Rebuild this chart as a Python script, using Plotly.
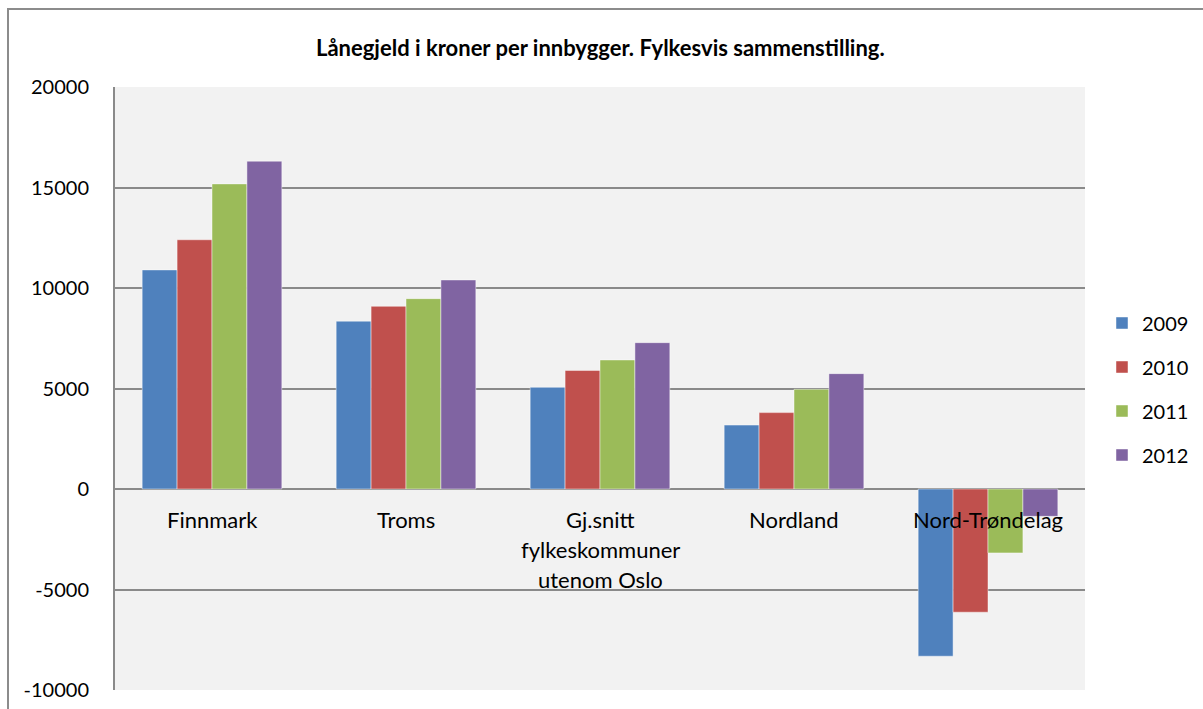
import plotly.graph_objects as go

categories = ["Finnmark", "Troms", "Gj.snitt\nfylkeskommuner\nutenom Oslo", "Nordland", "Nord-Trøndelag"]
years = ["2009", "2010", "2011", "2012"]
v2009 = [10900, 8350, 5060, 3180, -8320]
v2010 = [12400, 9090, 5900, 3800, -6130]
v2011 = [15180, 9470, 6420, 4960, -3180]
v2012 = [16310, 10400, 7280, 5740, -1360]
colors = ["#4F81BD", "#C0504D", "#9BBB59", "#8064A2"]
y_ticks = [-10000, -5000, 0, 5000, 10000, 15000, 20000]
title_text = "Lånegjeld i kroner per innbygger. Fylkesvis sammenstilling."

FONT = "Lato"
series = [v2009, v2010, v2011, v2012]

fig = go.Figure()
for i, (yr, vals) in enumerate(zip(years, series)):
    fig.add_trace(go.Bar(
        x=categories, y=vals, name=yr, legendgroup=yr,
        marker=dict(color=colors[i], line=dict(color="rgba(255,255,255,0.45)", width=1)),
    ))

annotations = []
for cat in categories:
    for j, line in enumerate(cat.split("\n")):
        annotations.append(dict(
            x=cat, y=0, xref="x", yref="y", text=line, showarrow=False,
            yanchor="middle", yshift=-30 - 30 * j,
            font=dict(family=FONT, size=22, color="black"),
        ))
annotations.append(dict(
    x=(600 - 115) / 970, y=(690 - 47) / 603, xref="paper", yref="paper",
    xanchor="center", yanchor="middle",
    text="<b>" + title_text + "</b>",
    showarrow=False, font=dict(family=FONT, size=22, color="black"),
))

fig.update_layout(
    width=1203, height=709,
    margin=dict(l=115, r=118, t=87, b=19, autoexpand=False),
    paper_bgcolor="white", plot_bgcolor="#F2F2F2",
    barmode="group", bargap=0.28, bargroupgap=0,
    font=dict(family=FONT, size=20, color="black"),
    showlegend=True,
    legend=dict(x=(1102 - 115) / 970, y=(690 - 389) / 603, xanchor="left", yanchor="middle",
                traceorder="grouped", tracegroupgap=15,
                font=dict(family=FONT, size=20, color="black"),
                bgcolor="rgba(0,0,0,0)", itemwidth=30),
    annotations=annotations,
    shapes=[dict(type="rect", xref="paper", yref="paper",
                 x0=(8 - 115) / 970, x1=(1215 - 115) / 970,
                 y0=(690 - 720) / 603, y1=(690 - 9) / 603,
                 line=dict(color="#8C8C8C", width=2), fillcolor="rgba(0,0,0,0)",
                 layer="below")],
)
fig.update_xaxes(showticklabels=False, showgrid=False, showline=False, zeroline=False,
                 automargin=False)
fig.update_yaxes(range=[-10000, 20000], tickvals=y_ticks, ticktext=[str(t) for t in y_ticks],
                 showgrid=True, gridcolor="#8A8A8A", gridwidth=1.5,
                 zeroline=True, zerolinecolor="#8A8A8A", zerolinewidth=1.5,
                 showline=True, linecolor="#8A8A8A", linewidth=2,
                 ticks="outside", ticklen=20, tickcolor="rgba(0,0,0,0)",
                 tickfont=dict(family=FONT, size=20, color="black"), automargin=False)

fig.write_html("out.html", config={"displayModeBar": False},
               post_script="document.body.style.margin='0';document.body.style.overflow='hidden';")
